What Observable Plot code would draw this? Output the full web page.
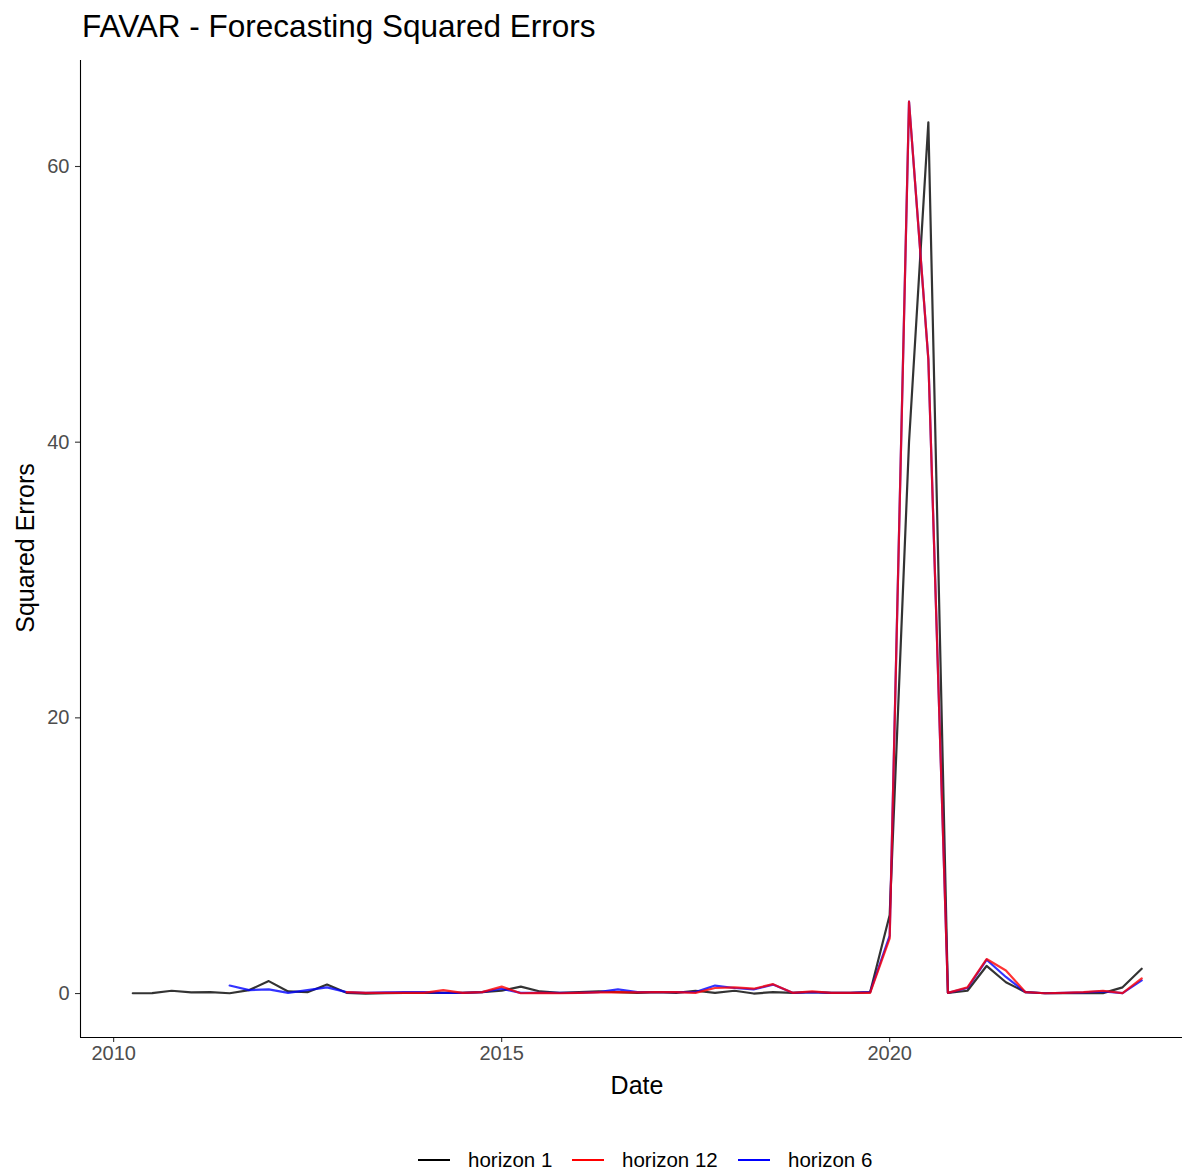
<!DOCTYPE html>
<html>
<head>
<meta charset="utf-8">
<script src="https://cdn.jsdelivr.net/npm/d3@7"></script>
<script src="https://cdn.jsdelivr.net/npm/@observablehq/plot@0.6"></script>
<style>
  html, body { margin: 0; padding: 0; background: #fff; }
  body { font-family: "Liberation Sans", Arial, Helvetica, sans-serif; }
  #wrap { position: relative; width: 1182px; height: 1173px; overflow: hidden; }
  #title { position: absolute; left: 82px; top: 8px; font-size: 31.5px; line-height: 36px; color: #000; white-space: nowrap; }
  #legend { position: absolute; top: 1148px; left: 0; width: 1182px; height: 25px; font-size: 20.5px; color: #000; }
  .key { position: absolute; top: 11px; width: 32px; height: 0; border-top: 2px solid; }
  .lab { position: absolute; top: 0px; line-height: 24px; white-space: nowrap; }
  #chart { position: absolute; left: 0; top: 0; }
</style>
</head>
<body>
<div id="wrap">
  <div id="chart"></div>
  <div id="title">FAVAR - Forecasting Squared Errors</div>
  <div id="legend"></div>
</div>
<script>
// Quarterly dates (2010 Q2 .. 2023 Q2)
const dates = [
  "2010-04-01","2010-07-01","2010-10-01","2011-01-01","2011-04-01","2011-07-01","2011-10-01",
  "2012-01-01","2012-04-01","2012-07-01","2012-10-01","2013-01-01","2013-04-01","2013-07-01",
  "2013-10-01","2014-01-01","2014-04-01","2014-07-01","2014-10-01","2015-01-01","2015-04-01",
  "2015-07-01","2015-10-01","2016-01-01","2016-04-01","2016-07-01","2016-10-01","2017-01-01",
  "2017-04-01","2017-07-01","2017-10-01","2018-01-01","2018-04-01","2018-07-01","2018-10-01",
  "2019-01-01","2019-04-01","2019-07-01","2019-10-01","2020-01-01","2020-04-01","2020-07-01",
  "2020-10-01","2021-01-01","2021-04-01","2021-07-01","2021-10-01","2022-01-01","2022-04-01",
  "2022-07-01","2022-10-01","2023-01-01","2023-04-01"
];

// horizon 1: starts 2010 Q2
const horizon1 = [
  0.02, 0.03, 0.2, 0.08, 0.1, 0.02, 0.25,
  0.9, 0.15, 0.1, 0.65, 0.05, 0.0, 0.02,
  0.05, 0.05, 0.05, 0.05, 0.1, 0.2, 0.5,
  0.15, 0.05, 0.1, 0.15, 0.1, 0.05, 0.1,
  0.05, 0.2, 0.05, 0.2, 0.0, 0.1, 0.05,
  0.1, 0.05, 0.05, 0.1, 5.7, 40.0, 63.2,
  0.05, 0.2, 2.0, 0.82, 0.1, 0.02, 0.03,
  0.03, 0.03, 0.45, 1.8
];

// horizon 6: starts 2011 Q3 (null before)
const horizon6 = [
  null, null, null, null, null, 0.58, 0.25,
  0.3, 0.05, 0.25, 0.45, 0.1, 0.05, 0.08,
  0.1, 0.1, 0.05, 0.05, 0.1, 0.35, 0.05,
  0.05, 0.05, 0.05, 0.1, 0.3, 0.1, 0.1,
  0.1, 0.1, 0.58, 0.4, 0.3, 0.65, 0.05,
  0.1, 0.05, 0.05, 0.1, 4.2, 64.7, 46.0,
  0.05, 0.4, 2.45, 1.2, 0.1, 0.02, 0.05,
  0.08, 0.15, 0.03, 0.95
];

// horizon 12: starts 2013 Q1 (null before)
const horizon12 = [
  null, null, null, null, null, null, null,
  null, null, null, null, 0.1, 0.05, 0.05,
  0.05, 0.05, 0.25, 0.05, 0.1, 0.5, 0.02,
  0.05, 0.02, 0.05, 0.08, 0.1, 0.08, 0.1,
  0.1, 0.05, 0.4, 0.45, 0.35, 0.68, 0.05,
  0.15, 0.05, 0.05, 0.05, 4.0, 64.7, 46.0,
  0.05, 0.45, 2.5, 1.67, 0.1, 0.02, 0.05,
  0.1, 0.2, 0.03, 1.1
];

const seriesNames = ["horizon 1", "horizon 12", "horizon 6"];
const seriesColors = ["black", "red", "blue"];
const xTicks = ["2010-01-01", "2015-01-01", "2020-01-01"];
const yTicks = [0, 20, 40, 60];

const parse = d3.utcParse("%Y-%m-%d");
function rows(values, name) {
  return values.map((v, i) => ({date: parse(dates[i]), value: v, series: name}))
               .filter(d => d.value !== null);
}
const data1 = rows(horizon1, "horizon 1");
const data6 = rows(horizon6, "horizon 6");
const data12 = rows(horizon12, "horizon 12");

const xDomain = [parse("2009-07-29"), parse("2023-10-10")];
const yDomain = [-3.19, 67.69];

const plot = Plot.plot({
  width: 1182,
  height: 1135,
  marginLeft: 80,
  marginRight: 0,
  marginTop: 60,
  marginBottom: 98,
  style: {fontFamily: '"Liberation Sans", Arial, Helvetica, sans-serif', background: "white", fontSize: "20px"},
  x: {type: "utc", domain: xDomain},
  y: {domain: yDomain},
  color: {domain: seriesNames, range: seriesColors},
  marks: [
    Plot.axisX({ticks: xTicks.map(parse), tickFormat: "%Y", tickSize: 5, tickPadding: 3,
      fontSize: 20, color: "#4D4D4D", stroke: "#333", strokeWidth: 1.1, label: null}),
    Plot.axisY({ticks: yTicks, tickSize: 5, tickPadding: 6, fontSize: 20, color: "#4D4D4D",
      stroke: "#333", strokeWidth: 1.1, label: null}),
    Plot.ruleX([xDomain[0]], {stroke: "black", strokeWidth: 1.1}),
    Plot.ruleY([yDomain[0]], {stroke: "black", strokeWidth: 1.1}),
    Plot.lineY(data1, {x: "date", y: "value", stroke: "series", strokeWidth: 2.2, strokeOpacity: 0.8}),
    Plot.lineY(data6, {x: "date", y: "value", stroke: "series", strokeWidth: 2.2, strokeOpacity: 0.8}),
    Plot.lineY(data12, {x: "date", y: "value", stroke: "series", strokeWidth: 2.2, strokeOpacity: 0.8})
  ]
});

// Axis titles
const svg = d3.select(plot);
svg.append("text").attr("x", 637).attr("y", 1094).attr("text-anchor", "middle")
  .attr("font-size", 25).attr("fill", "black").text("Date");
svg.append("text").attr("transform", "translate(34,548) rotate(-90)").attr("text-anchor", "middle")
  .attr("font-size", 25).attr("fill", "black").text("Squared Errors");

document.getElementById("chart").appendChild(plot);

// Legend
const legend = document.getElementById("legend");
const keyX = [418, 572, 738];
const labX = [468, 622, 788];
seriesNames.forEach((name, i) => {
  const k = document.createElement("div");
  k.className = "key";
  k.style.left = keyX[i] + "px";
  k.style.borderTopColor = seriesColors[i];
  legend.appendChild(k);
  const t = document.createElement("div");
  t.className = "lab";
  t.style.left = labX[i] + "px";
  t.textContent = name;
  legend.appendChild(t);
});
</script>
</body>
</html>
